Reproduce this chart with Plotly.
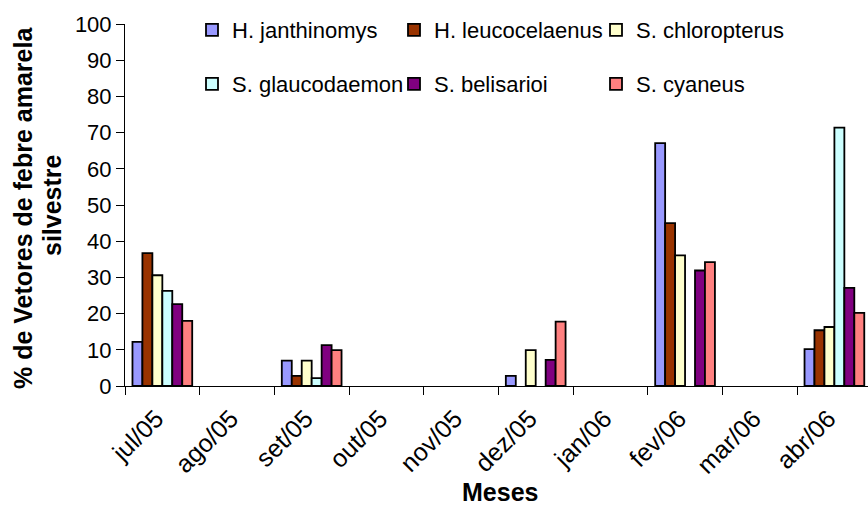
import plotly.graph_objects as go

months = ["jul/05", "ago/05", "set/05", "out/05", "nov/05", "dez/05", "jan/06", "fev/06", "mar/06", "abr/06"]

h_janthinomys = [12.2, 0, 7.0, 0, 0, 2.8, 0, 67.1, 0, 10.2]
h_leucocelaenus = [36.7, 0, 2.8, 0, 0, 0, 0, 45.0, 0, 15.4]
s_chloropterus = [30.6, 0, 7.0, 0, 0, 9.9, 0, 36.1, 0, 16.3]
s_glaucodaemon = [26.3, 0, 2.2, 0, 0, 0, 0, 0, 0, 71.4]
s_belisarioi = [22.6, 0, 11.3, 0, 0, 7.2, 0, 31.9, 0, 27.1]
s_cyaneus = [18.0, 0, 9.9, 0, 0, 17.8, 0, 34.2, 0, 20.2]

series_names = ["H. janthinomys", "H. leucocelaenus", "S. chloropterus",
                "S. glaucodaemon", "S. belisarioi", "S. cyaneus"]
series_values = [h_janthinomys, h_leucocelaenus, s_chloropterus,
                 s_glaucodaemon, s_belisarioi, s_cyaneus]
colors = ["#9999FF", "#993300", "#FFFFCC", "#CCFFFF", "#800080", "#FF8080"]

y_ticks = list(range(0, 101, 10))
y_title_lines = ["% de Vetores de febre amarela", "silvestre"]
x_title = "Meses"

FONT = "Liberation Sans, Arial, sans-serif"

L, T, W, H, R = 125, 24, 868, 506, 0
PLOT_BOTTOM = 386
B = H - PLOT_BOTTOM
PW = W - L - R
PH = PLOT_BOTTOM - T


def px_to_paper_x(px):
    return (px - L) / PW


def px_to_paper_y(py):
    return (PLOT_BOTTOM - py) / PH


fig = go.Figure()
for i, (name, vals, col) in enumerate(zip(series_names, series_values, colors)):
    fig.add_trace(go.Bar(
        x=months, y=[v if v else None for v in vals], name=name,
        marker=dict(color=col, line=dict(color="black", width=1.8)),
        legend="legend" if i < 3 else "legend2",
    ))

legend_common = dict(
    orientation="h", xanchor="left", yanchor="middle",
    font=dict(family=FONT, size=22, color="black"),
    entrywidth=157, entrywidthmode="pixels",
    bgcolor="rgba(0,0,0,0)", itemclick=False, itemdoubleclick=False,
)

fig.update_layout(
    width=W, height=H,
    margin=dict(l=L, r=R, t=T, b=B),
    paper_bgcolor="white", plot_bgcolor="white",
    barmode="group", bargap=0.2, bargroupgap=0,
    font=dict(family=FONT, color="black"),
    showlegend=True,
    legend=dict(x=px_to_paper_x(192), y=px_to_paper_y(30), **legend_common),
    legend2=dict(x=px_to_paper_x(192), y=px_to_paper_y(84), **legend_common),
    xaxis=dict(
        range=[-0.5, 9.45],
        tickangle=-45,
        tickfont=dict(family=FONT, size=25, color="black"),
        ticklabelshift=-6,
        ticklabelstandoff=7,
        showline=True, linecolor="black", linewidth=1,
        ticks="outside", ticklen=8, tickcolor="black", tickson="boundaries",
        showgrid=False, zeroline=False, automargin=False,
    ),
    yaxis=dict(
        range=[0, 100],
        tickvals=y_ticks,
        tickfont=dict(family=FONT, size=22, color="black"),
        showline=True, linecolor="black", linewidth=1,
        ticks="outside", ticklen=8, tickcolor="black",
        showgrid=False, zeroline=False, automargin=False,
    ),
    annotations=[
        dict(text="<b>%s</b>" % y_title_lines[0], textangle=-90, showarrow=False,
             xref="paper", yref="paper", x=px_to_paper_x(23), y=px_to_paper_y(208),
             xanchor="center", yanchor="middle",
             font=dict(family=FONT, size=25, color="black")),
        dict(text="<b>%s</b>" % y_title_lines[1], textangle=-90, showarrow=False,
             xref="paper", yref="paper", x=px_to_paper_x(52), y=px_to_paper_y(205),
             xanchor="center", yanchor="middle",
             font=dict(family=FONT, size=25, color="black")),
        dict(text="<b>%s</b>" % x_title, showarrow=False,
             xref="paper", yref="paper", x=px_to_paper_x(500), y=px_to_paper_y(492),
             xanchor="center", yanchor="middle",
             font=dict(family=FONT, size=25, color="black")),
    ],
)

fig.write_html("out.html", config={"displayModeBar": False},
               post_script="document.body.style.margin='0px';")
